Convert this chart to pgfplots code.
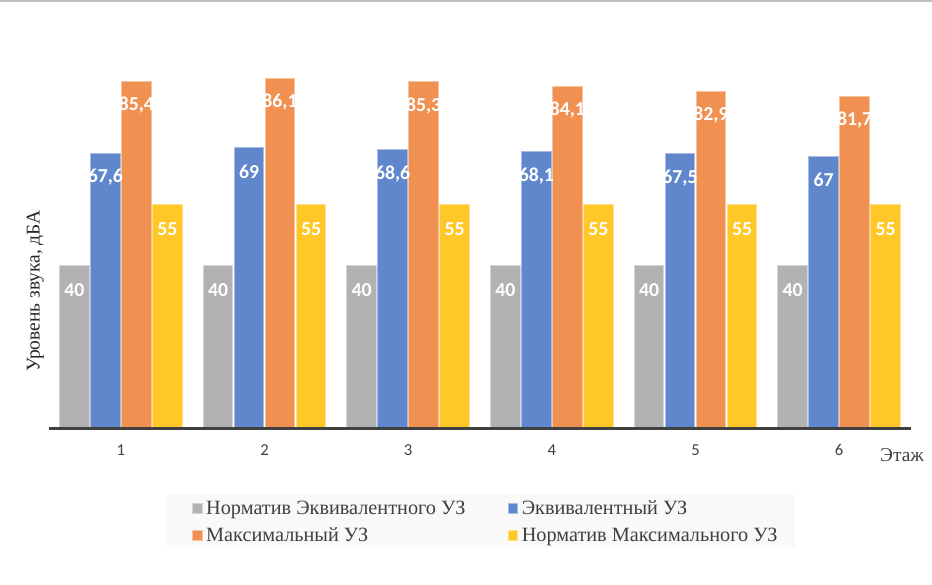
\documentclass[border=0pt]{standalone}
\usepackage{pgfplots}
\pgfplotsset{compat=1.18}
\usepackage{fontspec}
\setmainfont{Liberation Serif}
\newfontfamily\carlito{Carlito}
\definecolor{cgray}{RGB}{178,178,178}
\definecolor{cblue}{RGB}{96,135,204}
\definecolor{corange}{RGB}{240,145,82}
\definecolor{cyellow}{RGB}{255,200,40}
\definecolor{txt}{RGB}{64,64,64}
\definecolor{legbg}{RGB}{249,249,249}
\begin{document}
\begin{tikzpicture}
\path[use as bounding box] (0,0) rectangle (699pt,438.75pt);
\fill[black!25] (0,437.25pt) rectangle (699pt,438.75pt);
\fill[legbg] (125.25pt,28.5pt) rectangle (596.25pt,68.25pt);
\begin{axis}[
  at={(36.75pt,117.375pt)}, anchor=south west,
  scale only axis, width=646.5pt, height=305pt,
  xmin=0.5, xmax=6.5, ymin=0, ymax=100,
  axis y line=none,
  axis x line*=bottom,
  axis on top,
  x axis line style={line width=2.25pt, color=txt},
  xtick={1,2,3,4,5,6}, major tick length=0pt,
  /pgf/number format/assume math mode=true,
  xticklabel style={font=\carlito\fontsize{12.5}{14}\selectfont, text=txt, anchor=center, yshift=-16pt},
  ybar=1.15pt, bar width=22.1pt,
  legend image code/.code={\draw[#1] (0pt,-3.6pt) rectangle (7.2pt,3.6pt);},
  nodes near coords, point meta=explicit symbolic,
  nodes near coords style={font=\carlito\bfseries\fontsize{14.8}{16}\selectfont, text=white, anchor=center, yshift=-18pt},
  legend columns=2,
  legend style={at={(0.1659,-0.2299)}, anchor=west, draw=none, fill=none,
    font=\fontsize{15.2}{17}\selectfont, text=txt, inner xsep=0pt, inner ysep=0pt,
    nodes={inner xsep=2.5pt, inner ysep=2.5pt}, row sep=3.5pt,
    /tikz/every even column/.append style={column sep=29.3pt}},
  legend cell align=left,
]
\addplot[fill=cgray, draw=cgray!55!white, line width=0.75pt] coordinates {(1,40)[40] (2,40)[40] (3,40)[40] (4,40)[40] (5,40)[40] (6,40)[40]};
\addlegendentry{Норматив Эквивалентного УЗ}
\addplot[fill=cblue, draw=cblue!55!white, line width=0.75pt] coordinates {(1,67.6)[67,6] (2,69)[69] (3,68.6)[68,6] (4,68.1)[68,1] (5,67.5)[67,5] (6,67)[67]};
\addlegendentry{Эквивалентный УЗ}
\addplot[fill=corange, draw=corange!55!white, line width=0.75pt] coordinates {(1,85.4)[85,4] (2,86.1)[86,1] (3,85.3)[85,3] (4,84.1)[84,1] (5,82.9)[82,9] (6,81.7)[81,7]};
\addlegendentry{Максимальный УЗ}
\addplot[fill=cyellow, draw=cyellow!55!white, line width=0.75pt] coordinates {(1,55)[55] (2,55)[55] (3,55)[55] (4,55)[55] (5,55)[55] (6,55)[55]};
\addlegendentry{Норматив Максимального УЗ}
\end{axis}
\node[text=txt, font=\fontsize{14.6}{17}\selectfont] at (676.5pt,97.5pt) {Этаж};
\node[text=black!85, rotate=90, font=\fontsize{14.6}{17}\selectfont] at (26.5pt,220.5pt) {Уровень звука, дБА};
\end{tikzpicture}
\end{document}
